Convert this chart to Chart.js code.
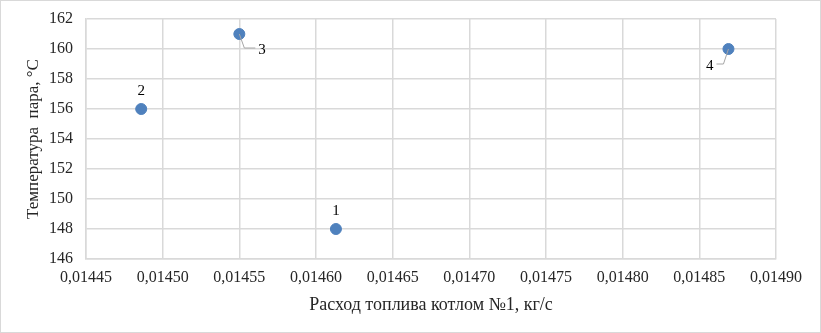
<!DOCTYPE html>
<html>
<head>
<meta charset="utf-8">
<script src="https://cdn.jsdelivr.net/npm/chart.js@4/dist/chart.umd.min.js"></script>
<style>
  html, body { margin: 0; padding: 0; background: #fff; }
  .frame { position: relative; width: 821px; height: 333px; box-sizing: border-box; border: 1px solid #d9d9d9; }
  canvas { display: block; }
</style>
</head>
<body>
<div class="frame">
  <canvas id="chart" width="819" height="331"></canvas>
</div>
<script>
// ===== DATA =====
const pointNames  = ['1', '2', '3', '4'];
const fuelFlow    = [0.014613, 0.014486, 0.01455, 0.014869];
const steamTemp   = [148, 156, 161, 160];
const xTicks      = [0.01445, 0.01450, 0.01455, 0.01460, 0.01465, 0.01470, 0.01475, 0.01480, 0.01485, 0.01490];
const yTicks      = [146, 148, 150, 152, 154, 156, 158, 160, 162];

// label placement per point: 'above' or leader line with dx/dy
const labelStyle = {
  '1': { type: 'above' },
  '2': { type: 'above' },
  '3': { type: 'leader', dx: 16, dy: 14 },
  '4': { type: 'leader', dx: -12, dy: 15 }
};

const serif = '"Liberation Serif", "Times New Roman", serif';

const pointLabels = {
  id: 'pointLabels',
  afterDatasetsDraw(chart) {
    const ctx = chart.ctx;
    const meta = chart.getDatasetMeta(0);
    ctx.save();
    ctx.font = '15px ' + serif;
    ctx.fillStyle = '#000';
    meta.data.forEach((pt, i) => {
      const name = pointNames[i];
      const st = labelStyle[name];
      if (st.type === 'above') {
        ctx.textAlign = 'center';
        ctx.textBaseline = 'bottom';
        ctx.fillText(name, pt.x, pt.y - 10);
      } else {
        const ex = pt.x + st.dx;
        const ey = pt.y + st.dy;
        const bendX = pt.x + Math.sign(st.dx) * 5;
        ctx.strokeStyle = '#a6a6a6';
        ctx.lineWidth = 1;
        ctx.beginPath();
        ctx.moveTo(pt.x, pt.y);
        ctx.lineTo(bendX, ey);
        ctx.lineTo(ex, ey);
        ctx.stroke();
        ctx.textBaseline = 'middle';
        if (st.dx > 0) {
          ctx.textAlign = 'left';
          ctx.fillText(name, ex + 3, ey + 2);
        } else {
          ctx.textAlign = 'right';
          ctx.fillText(name, ex - 3, ey + 2);
        }
      }
    });
    ctx.restore();
  }
};

const fmt = v => v.toFixed(5).replace('.', ',');

new Chart(document.getElementById('chart'), {
  type: 'scatter',
  data: {
    datasets: [{
      data: fuelFlow.map((x, i) => ({ x: x, y: steamTemp[i] })),
      backgroundColor: '#4f81bd',
      borderColor: '#4f81bd',
      pointRadius: 5.5,
      pointHoverRadius: 5.5
    }]
  },
  options: {
    responsive: false,
    animation: false,
    layout: { padding: { top: 18, right: 44, bottom: 0, left: 0 } },
    plugins: { legend: { display: false }, tooltip: { enabled: false } },
    scales: {
      x: {
        type: 'linear',
        min: xTicks[0],
        max: xTicks[xTicks.length - 1],
        afterBuildTicks: s => { s.ticks = xTicks.map(v => ({ value: v })); },
        afterFit: s => { s.height = 73; s.paddingLeft = 0; s.paddingRight = 0; },
        grid: { color: '#d9d9d9', drawTicks: false, lineWidth: 1.5 },
        border: { color: '#d9d9d9', width: 1.5 },
        ticks: { color: '#262626', font: { family: serif, size: 16 }, padding: 9, maxRotation: 0, callback: v => fmt(v) },
        title: { display: true, text: 'Расход топлива котлом №1, кг/с', color: '#262626', font: { family: serif, size: 18 }, padding: { top: 2, bottom: 16 } }
      },
      y: {
        min: yTicks[0],
        max: yTicks[yTicks.length - 1],
        afterBuildTicks: s => { s.ticks = yTicks.map(v => ({ value: v })); },
        afterFit: s => { s.width = 85; s.paddingTop = 0; s.paddingBottom = 0; },
        grid: { color: '#d9d9d9', drawTicks: false, lineWidth: 1.5 },
        border: { color: '#d9d9d9', width: 1.5 },
        ticks: { color: '#262626', font: { family: serif, size: 16 }, padding: 13 },
        title: { display: true, text: 'Температура  пара, °С', color: '#262626', font: { family: serif, size: 17 }, padding: { top: 22, bottom: 0 } }
      }
    }
  },
  plugins: [pointLabels]
});
</script>
</body>
</html>
